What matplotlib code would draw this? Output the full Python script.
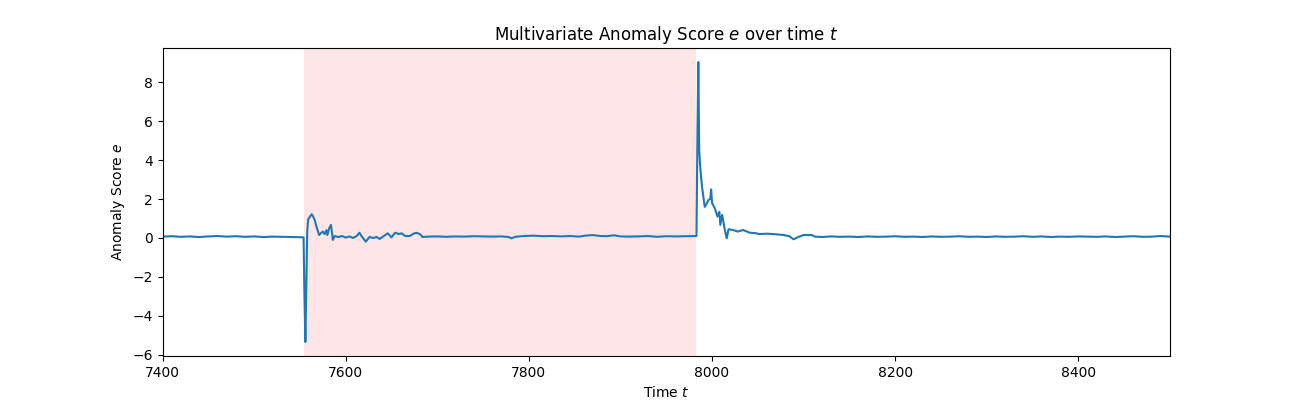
import numpy as np
import matplotlib
matplotlib.use('Agg')
import matplotlib.pyplot as plt

# Anomaly window (shaded)
anomaly_start = 7554
anomaly_end = 7982

# Readings of the anomaly score e over time t
t_pts = [7400, 7410, 7420, 7430, 7440, 7450, 7460, 7470, 7480, 7490,
         7500, 7510, 7520, 7530, 7540, 7550, 7554, 7555, 7556, 7557,
         7558, 7559, 7561, 7563, 7565, 7566, 7568, 7570, 7571, 7573,
         7575, 7577, 7579, 7580, 7582, 7584, 7586, 7588, 7592, 7596,
         7600, 7604, 7608, 7612, 7615, 7618, 7622, 7626, 7630, 7634,
         7637, 7641, 7646, 7650, 7654, 7658, 7661, 7665, 7670, 7674,
         7677, 7681, 7684, 7690, 7700, 7710, 7720, 7730, 7740, 7750,
         7760, 7770, 7778, 7781, 7785, 7795, 7805, 7815, 7825, 7835,
         7845, 7855, 7862, 7870, 7878, 7885, 7893, 7900, 7910, 7920,
         7930, 7940, 7950, 7960, 7970, 7983, 7984, 7985, 7986, 7987,
         7989, 7992, 7994, 7996, 7998, 7999, 8000, 8003, 8006, 8008,
         8009, 8011, 8014, 8016, 8018, 8023, 8028, 8034, 8041, 8047,
         8052, 8060, 8070, 8078, 8084, 8089, 8094, 8100, 8109, 8112,
         8120, 8130, 8140, 8150, 8160, 8170, 8180, 8190, 8200, 8210,
         8220, 8230, 8240, 8250, 8260, 8270, 8280, 8290, 8300, 8310,
         8320, 8330, 8340, 8350, 8360, 8370, 8380, 8390, 8400, 8410,
         8420, 8430, 8440, 8450, 8460, 8470, 8480, 8490, 8500]
e_pts = [0.07, 0.09, 0.06, 0.08, 0.05, 0.08, 0.10, 0.07, 0.09, 0.06,
         0.08, 0.05, 0.07, 0.06, 0.05, 0.04, 0.03, -3.0, -5.35, -2.5,
         0.3, 0.95, 1.1, 1.22, 1.05, 0.95, 0.6, 0.3, 0.15, 0.25,
         0.33, 0.2, 0.4, 0.15, 0.5, 0.67, -0.1, 0.1, 0.05, 0.1,
         0.02, 0.08, 0.0, 0.1, 0.27, 0.05, -0.19, 0.05, 0.0, 0.05,
         -0.05, 0.08, 0.24, 0.03, 0.27, 0.2, 0.24, 0.1, 0.1, 0.22,
         0.27, 0.2, 0.05, 0.07, 0.08, 0.06, 0.08, 0.07, 0.09, 0.08,
         0.07, 0.08, 0.05, -0.02, 0.06, 0.10, 0.12, 0.09, 0.10, 0.08,
         0.10, 0.07, 0.12, 0.15, 0.10, 0.09, 0.14, 0.08, 0.07, 0.08,
         0.10, 0.06, 0.09, 0.08, 0.09, 0.10, 5.0, 9.05, 4.5, 3.7,
         2.65, 1.6, 1.75, 1.95, 2.0, 2.5, 1.8, 1.53, 1.1, 1.35,
         0.67, 1.19, 0.41, -0.02, 0.45, 0.41, 0.33, 0.41, 0.27, 0.25,
         0.2, 0.22, 0.19, 0.15, 0.1, -0.07, 0.05, 0.15, 0.15, 0.07,
         0.05, 0.08, 0.06, 0.07, 0.05, 0.08, 0.06, 0.07, 0.09, 0.06,
         0.07, 0.05, 0.08, 0.06, 0.07, 0.09, 0.06, 0.07, 0.05, 0.08,
         0.06, 0.07, 0.09, 0.06, 0.08, 0.05, 0.07, 0.06, 0.08, 0.07,
         0.06, 0.08, 0.05, 0.07, 0.09, 0.06, 0.07, 0.10, 0.07]

fig, ax = plt.subplots(figsize=(13, 4), dpi=100)

ax.axvspan(anomaly_start, anomaly_end, color='red', alpha=0.1, lw=0)
ax.plot(t_pts, e_pts)

ax.set_xlim(7400, 8500)
ax.set_title('Multivariate Anomaly Score $e$ over time $t$')
ax.set_xlabel('Time $t$')
ax.set_ylabel('Anomaly Score $e$')

fig.savefig('out.png')
